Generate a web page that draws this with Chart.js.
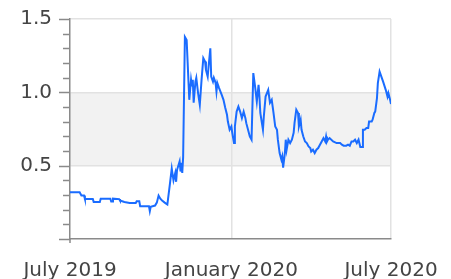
<!DOCTYPE html>
<html>
<head>
<meta charset="utf-8">
<script src="https://cdn.jsdelivr.net/npm/chart.js@4/dist/chart.umd.min.js"></script>
<style>
  html, body { margin: 0; padding: 0; background: #fff; }
  #wrap { width: 451px; height: 279px; }
</style>
</head>
<body>
<div id="wrap"><canvas id="chart"></canvas></div>
<script>
// days counted from 1 July 2019
const dayOffsets = [
  0, 11, 13, 16, 17, 26, 27, 34, 35, 46, 47, 48, 49, 56, 57, 62, 68, 75, 76, 79,
  80, 90, 91, 92, 97, 99, 101, 103, 105, 108, 111, 114, 116, 118, 120, 121, 122, 125, 126, 127,
  128, 129, 131, 133, 135, 136, 138, 139, 140, 141, 143, 144, 146, 148, 150, 152, 154, 155, 157, 158,
  160, 161, 163, 164, 166, 167, 168, 170, 173, 175, 177, 179, 180, 182, 184, 185, 187, 188, 190, 192,
  194, 196, 198, 200, 201, 203, 205, 207, 209, 211, 213, 215, 216, 217, 220, 221, 223, 226, 228, 230,
  232, 234, 236, 237, 239, 241, 242, 243, 245, 246, 247, 249, 251, 253, 255, 256, 258, 260, 261, 263,
  264, 266, 268, 270, 272, 274, 275, 277, 279, 281, 283, 285, 287, 289, 291, 292, 293, 294, 296, 300,
  304, 308, 310, 312, 315, 317, 319, 321, 323, 325, 327, 329, 331, 333, 334, 336, 338, 340, 341, 344,
  345, 347, 348, 350, 351, 353, 355, 357, 358, 360, 362, 363, 365, 366
];
const values = [
  0.318, 0.318, 0.296, 0.296, 0.273, 0.273, 0.253, 0.253, 0.275, 0.275, 0.255, 0.255, 0.275, 0.272, 0.262, 0.252, 0.246, 0.246, 0.257, 0.257,
  0.224, 0.224, 0.19, 0.22, 0.228, 0.248, 0.296, 0.275, 0.262, 0.248, 0.235, 0.38, 0.48, 0.40, 0.45, 0.39, 0.47, 0.53, 0.46, 0.52,
  0.45, 0.56, 1.378, 1.357, 1.085, 0.949, 1.085, 1.04, 1.085, 0.929, 1.073, 1.099, 0.997, 0.915, 1.085, 1.233, 1.21, 1.153, 1.107, 1.176,
  1.30, 1.107, 1.073, 1.099, 1.065, 1.005, 1.063, 1.029, 0.983, 0.949, 0.895, 0.847, 0.801, 0.745, 0.767, 0.724, 0.654, 0.767, 0.869, 0.903,
  0.869, 0.824, 0.869, 0.824, 0.79, 0.745, 0.699, 0.677, 1.131, 1.04, 0.937, 1.051, 0.971, 0.859, 0.745, 0.835, 0.971, 1.017, 0.929, 0.949,
  0.861, 0.767, 0.745, 0.677, 0.586, 0.541, 0.563, 0.486, 0.586, 0.677, 0.609, 0.677, 0.654, 0.677, 0.724, 0.79, 0.881, 0.859, 0.767, 0.813,
  0.745, 0.699, 0.665, 0.654, 0.631, 0.62, 0.597, 0.609, 0.586, 0.609, 0.62, 0.643, 0.665, 0.688, 0.665, 0.699, 0.665, 0.677, 0.688, 0.665,
  0.654, 0.654, 0.643, 0.636, 0.636, 0.643, 0.636, 0.665, 0.665, 0.677, 0.654, 0.677, 0.627, 0.627, 0.745, 0.745, 0.756, 0.756, 0.801, 0.801,
  0.813, 0.859, 0.869, 0.961, 1.063, 1.141, 1.107, 1.073, 1.073, 1.017, 0.971, 0.995, 0.949, 0.92
];
const tickDays = [0, 184, 366];
const tickLabels = ['July 2019', 'January 2020', 'July 2020'];
const yTicks = [0.5, 1.0, 1.5];
const band = [0.5, 1.0];

const points = dayOffsets.map((d, i) => ({ x: d, y: values[i] }));
const isMajor = (v) => Math.abs(v * 2 - Math.round(v * 2)) < 1e-6;

const bandPlugin = {
  id: 'band',
  beforeDraw(chart) {
    const { ctx, chartArea, scales } = chart;
    const top = scales.y.getPixelForValue(band[1]);
    const bottom = scales.y.getPixelForValue(band[0]);
    ctx.save();
    ctx.fillStyle = '#f2f2f2';
    ctx.fillRect(chartArea.left, top, chartArea.right - chartArea.left, bottom - top);
    ctx.restore();
  },
  afterDraw(chart) {
    // tick marks on the y axis: long at labels, short in between
    const { ctx, chartArea, scales } = chart;
    ctx.save();
    ctx.strokeStyle = '#8a8a8a';
    ctx.lineWidth = 1.5;
    for (let i = 0; i <= 15; i++) {
      const v = i / 10;
      const y = Math.round(scales.y.getPixelForValue(v)) + 0.5;
      const len = isMajor(v) ? 11 : 7;
      ctx.beginPath();
      ctx.moveTo(chartArea.left - len, y);
      ctx.lineTo(chartArea.left, y);
      ctx.stroke();
    }
    // y axis runs a little past the x axis
    ctx.beginPath();
    ctx.moveTo(chartArea.left, chartArea.bottom);
    ctx.lineTo(chartArea.left, chartArea.bottom + 4);
    ctx.stroke();
    ctx.restore();
  }
};

new Chart(document.getElementById('chart'), {
  type: 'line',
  data: {
    datasets: [{
      data: points,
      borderColor: '#1a6cff',
      borderWidth: 2,
      pointRadius: 0,
      tension: 0,
      fill: false,
    }],
  },
  options: {
    responsive: true,
    maintainAspectRatio: false,
    animation: false,
    layout: { padding: { top: 19, right: 60, left: 0, bottom: 0 } },
    plugins: { legend: { display: false }, tooltip: { enabled: false } },
    scales: {
      x: {
        type: 'linear',
        min: 0,
        max: 366,
        afterBuildTicks: (axis) => { axis.ticks = tickDays.map((v) => ({ value: v })); },
        afterFit: (scale) => {
          scale.height = 40;
          scale.paddingLeft = 0;
          scale.paddingRight = 0;
        },
        ticks: {
          autoSkip: false,
          maxRotation: 0,
          padding: 20,
          color: '#444',
          font: { family: 'DejaVu Sans', size: 20 },
          callback: (v) => tickLabels[tickDays.indexOf(v)],
        },
        grid: {
          drawTicks: false,
          color: (c) => (c.tick && c.tick.value === 0 ? 'rgba(0,0,0,0)' : '#e2e2e2'),
          lineWidth: 1.5,
        },
        border: { color: '#8a8a8a', width: 1.5 },
      },
      y: {
        min: 0,
        max: 1.5,
        afterBuildTicks: (axis) => { axis.ticks = yTicks.map((v) => ({ value: v })); },
        afterFit: (scale) => {
          scale.width = 70;
          scale.paddingTop = 0;
          scale.paddingBottom = 0;
        },
        ticks: {
          padding: 18,
          color: '#444',
          font: { family: 'DejaVu Sans', size: 20 },
          callback: (v) => v.toFixed(1),
        },
        grid: { drawTicks: false, color: '#e2e2e2', lineWidth: 1.5 },
        border: { color: '#8a8a8a', width: 1.5 },
      },
    },
  },
  plugins: [bandPlugin],
});
</script>
</body>
</html>
